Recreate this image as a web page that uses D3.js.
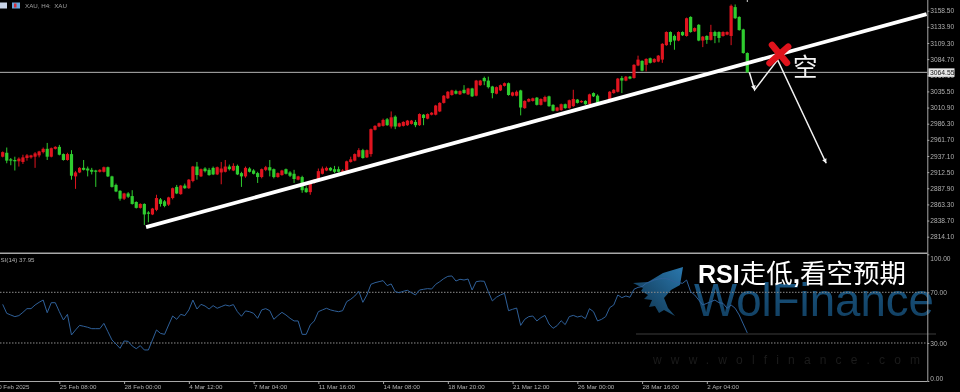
<!DOCTYPE html>
<html><head><meta charset="utf-8">
<script src="https://cdn.jsdelivr.net/npm/d3@7"></script>
<style>html,body{margin:0;padding:0;background:#000;overflow:hidden}svg{display:block;filter:blur(0.4px)}
text{font-family:"Liberation Sans",Arial,sans-serif}</style></head>
<body><svg id="c" width="960" height="392"></svg>
<script>
const opens=[2936,2942,2932,2931,2929,2928,2934,2935,2936,2938,
2943,2948,2936,2948,2951,2940,2931,2940,2906,2912,
2919,2918,2916,2915,2913,2913,2920,2906,2893,2884,
2872,2880,2876,2867,2858,2864,2851,2848,2855,2871,
2868,2863,2873,2890,2879,2892,2888,2899,2921,2906,
2918,2916,2919,2909,2912,2913,2921,2915,2922,2911,
2906,2918,2915,2911,2905,2916,2920,2917,2905,2908,
2917,2912,2910,2901,2905,2888,2882,2896,2902,2910,
2915,2919,2917,2917,2913,2915,2928,2930,2936,2946,
2935,2940,2977,2982,2983,2993,2982,2997,2982,2983,
2984,2986,2989,2984,3000,2994,3000,3000,3005,3018,
3025,3030,3036,3031,3038,3031,3040,3029,3045,3056,
3052,3043,3032,3037,3044,3048,3029,3029,3037,3010,
3020,3021,3026,3015,3020,3028,3015,3006,3007,3016,
3010,3013,3023,3019,3021,3016,3033,3029,3020,3018,
3024,3033,3035,3056,3052,3058,3056,3075,3082,3076,
3086,3080,3081,3084,3106,3126,3120,3113,3126,3120,
3149,3127,3137,3113,3120,3114,3126,3126,3120,3122,
3120,3164,3149,3130,3094];
const closes=[2943,2930,2930,2929,2933,2935,2938,2938,2941,2944,
2948,2936,2949,2951,2939,2931,2940,2907,2912,2919,
2916,2915,2913,2913,2916,2920,2906,2890,2883,2872,
2880,2875,2864,2858,2864,2848,2849,2857,2873,2864,
2861,2874,2888,2880,2892,2888,2901,2921,2908,2917,
2914,2908,2909,2920,2918,2921,2917,2922,2909,2906,
2919,2913,2910,2905,2917,2920,2915,2905,2911,2915,
2910,2907,2902,2906,2885,2882,2895,2901,2914,2918,
2919,2915,2913,2913,2915,2929,2932,2940,2946,2934,
2946,2978,2983,2987,2992,2984,2996,2982,2987,2989,
2991,2991,2984,3001,2995,3001,3003,3014,3018,3029,
3035,3037,3032,3036,3033,3040,3028,3052,3052,3051,
3042,3033,3042,3045,3048,3030,3034,3035,3011,3021,
3024,3025,3015,3024,3027,3013,3006,3011,3016,3010,
3022,3024,3018,3021,3016,3031,3028,3018,3017,3021,
3035,3038,3055,3052,3058,3055,3076,3084,3067,3085,
3079,3085,3090,3108,3126,3111,3113,3126,3121,3147,
3126,3132,3113,3119,3114,3126,3120,3117,3126,3126,
3166,3147,3129,3094,3064.55];
const highs=[2944,2950,2934,2936,2935,2939,2940,2939,2943,2945,
2950,2957,2950,2952,2954,2941,2942,2946,2914,2920,
2931,2921,2919,2916,2917,2921,2921,2907,2895,2885,
2881,2882,2885,2868,2865,2865,2853,2858,2878,2873,
2870,2875,2889,2893,2893,2895,2902,2922,2928,2918,
2920,2919,2921,2921,2928,2931,2924,2926,2924,2913,
2921,2920,2917,2913,2918,2922,2931,2918,2912,2916,
2918,2914,2916,2907,2907,2891,2899,2902,2918,2921,
2921,2920,2922,2921,2917,2930,2936,2941,2949,2948,
2947,2979,2984,2988,2994,2995,3005,2999,2988,2990,
2992,2992,2992,3002,3001,3002,3004,3015,3019,3030,
3036,3038,3038,3037,3045,3041,3041,3053,3053,3058,
3058,3044,3043,3046,3049,3049,3035,3037,3038,3022,
3025,3026,3027,3025,3029,3029,3016,3012,3017,3017,
3023,3038,3024,3022,3022,3032,3034,3031,3021,3022,
3036,3039,3056,3059,3059,3059,3077,3090,3083,3086,
3087,3086,3091,3109,3127,3127,3122,3127,3127,3148,
3150,3133,3138,3120,3121,3137,3128,3127,3127,3127,
3168,3168,3150,3131,3095];
const lows=[2935,2926,2923,2915,2921,2925,2930,2933,2919,2935,
2941,2931,2935,2947,2938,2930,2930,2901,2887,2911,
2915,2906,2909,2890,2912,2912,2905,2889,2882,2869,
2870,2873,2863,2857,2857,2832,2836,2847,2853,2860,
2859,2861,2871,2879,2878,2887,2887,2897,2901,2905,
2912,2907,2908,2908,2894,2912,2915,2914,2908,2890,
2904,2912,2909,2896,2903,2914,2906,2903,2904,2907,
2909,2905,2896,2900,2881,2881,2878,2895,2901,2909,
2914,2914,2911,2912,2912,2914,2927,2929,2935,2933,
2934,2936,2976,2981,2982,2983,2979,2978,2981,2982,
2983,2985,2981,2983,2984,2993,2999,2999,3004,3017,
3024,3029,3031,3030,3032,3030,3027,3028,3044,3045,
3040,3025,3031,3036,3043,3029,3028,3028,2999,3009,
3019,3020,3014,3014,3019,3012,3005,3005,3006,3009,
3009,3012,3017,3018,3015,3015,3027,3017,3016,3017,
3023,3032,3034,3033,3051,3054,3055,3074,3066,3066,
3078,3079,3080,3079,3105,3106,3099,3112,3120,3119,
3125,3126,3112,3103,3108,3113,3109,3110,3119,3121,
3106,3146,3128,3093,3064];
const rsi=[60.5,53.4,52.1,50.8,51.6,54.2,57.1,57.1,60,62.1,
63.9,53.9,61.8,61.8,54.7,48.2,52.6,36.3,40.3,43.9,
43.2,42.4,41.3,41.3,41.3,45.5,38.9,32.4,29.2,25.8,
31.6,31.3,27.6,25.5,27.9,24.5,24.5,32.4,40.3,37.6,
36.8,44.2,51.3,48.7,52.6,51.6,56.1,63.9,56.8,60.5,
59.2,56.8,59.5,57.4,58.7,60,59.2,60.3,54.7,51.1,
55.3,54.7,53.4,49.5,56.1,57.1,55.5,48.7,51.6,54.2,
52.1,49.5,47.4,47.4,36.8,36.8,44.2,47.4,54.7,56.1,
57.4,56.1,55.3,54.7,55.5,62.6,64.5,67.1,70.8,62.1,
67.9,76.3,77.6,78.4,79.2,75.3,76.6,70.5,69.7,70.8,
71.6,69.7,67.9,71.8,72.4,72.9,72.6,76.3,78.4,80.8,
82.6,82.9,78.9,80.3,79.7,80.5,71.8,78.4,78.9,78.7,
70.5,63.2,66.1,67.9,69.2,55.5,56.6,57.6,43.9,48.7,
50.8,51.3,47.4,50,51.8,45,41.6,43.7,47.6,44.5,
50.8,51.8,50.5,51.3,49.2,57.1,54.7,47.4,48.7,50.8,
57.9,60,67.9,65.8,67.1,66.1,72.4,73.9,74.5,77.1,
78.4,79.7,80.5,81,81,79.7,78.4,77.6,77.1,79.7,
70.5,67.9,63.9,60,61.3,62.6,63.9,61.8,61.3,57.4,
60,57.4,52.1,45,37.95];
const priceTicks=[3158.5,3133.9,3109.3,3084.7,3060.1,3035.5,3010.9,2986.3,2961.7,2937.1,2912.5,2887.9,2863.3,2838.7,2814.1];
const lastPrice=3064.55;
const rsiTicks=[100,70,30,0];
const timeTicks=[14,30,46,62,78,94,110,126,142,158,174];
const timeLabels=["25 Feb 08:00","28 Feb 00:00","4 Mar 12:00","7 Mar 04:00","11 Mar 16:00","14 Mar 08:00","18 Mar 20:00","21 Mar 12:00","26 Mar 00:00","28 Mar 16:00","2 Apr 04:00"];
const trendIdx=[35.43,228.3], trendPrice=[2828.6,3153.2];
const shortPathIdx=[184.5,185.8,191.5,203.5], shortPathPrice=[3064.8,3037.8,3083.6,2926.1];
const crossAIdx=[190.1,193.8], crossAPrice=[3106.4,3079];
const crossBIdx=[194.1,189.5], crossBPrice=[3103.8,3078.5];

const svg=d3.select("#c");
const W=927.3, GREY="#a8a8a8";
const x=d3.scaleLinear().domain([0,184]).range([2.7,747.3]);
const y=d3.scaleLinear().domain([3158.5,2814.1]).range([10.7,236.7]);
const yr=d3.scaleLinear().domain([0,100]).range([381,254.3]);
const RED="#e0141f", GREEN="#2fcc2f";
const col=i=>closes[i]>=opens[i]?RED:GREEN;
const SMALL=6.2;

/* watermark */
const defs=svg.append("defs");
const g=defs.append("linearGradient").attr("id","wolf").attr("x1",1).attr("y1",0).attr("x2",0).attr("y2",1);
g.append("stop").attr("offset","0").attr("stop-color","#2a78ae");
g.append("stop").attr("offset","1").attr("stop-color","#0d2e46");
const t=defs.append("linearGradient").attr("id","wf").attr("x1",0).attr("y1",0).attr("x2",0).attr("y2",1);
t.append("stop").attr("offset","0").attr("stop-color","#1a5a88");
t.append("stop").attr("offset","1").attr("stop-color","#113c5c");
svg.append("path").attr("fill","url(#wolf)")
 .attr("d","M633,283 L648,282 L663,273 L683,267 L680,285 L671,290 L664,298 L668,308 L675,316 L664,310 L659,313 L655,306 L649,307 L652,300 L644,299 L648,295 L641,291 L643,288 Z");
svg.append("text").text("WolFinance").attr("x",694).attr("y",316).attr("font-size",47)
 .attr("textLength",240).attr("lengthAdjust","spacingAndGlyphs").attr("fill","url(#wf)");
svg.append("text").text("www.wolfinance.com").attr("x",653).attr("y",364).attr("font-size",12)
 .attr("textLength",267).attr("fill","#1b1b1b");
svg.append("line").attr("x1",636).attr("x2",936).attr("y1",334).attr("y2",334).attr("stroke","#3c3c3c");

/* frame */
svg.append("line").attr("x1",0).attr("x2",W).attr("y1",253.3).attr("y2",253.3).attr("stroke",GREY).attr("stroke-width",1.6);
svg.append("line").attr("x1",0).attr("x2",W).attr("y1",y(lastPrice)).attr("y2",y(lastPrice)).attr("stroke","#b4b4b4");

/* candles */
const idx=d3.range(opens.length);
svg.append("g").selectAll("line").data(idx).join("line")
 .attr("x1",i=>x(i)).attr("x2",i=>x(i)).attr("y1",i=>y(highs[i])).attr("y2",i=>y(lows[i]))
 .attr("stroke",col).attr("stroke-width",1);
svg.append("g").selectAll("rect").data(idx).join("rect")
 .attr("x",i=>x(i)-1.6).attr("width",3.2)
 .attr("y",i=>y(Math.max(opens[i],closes[i])))
 .attr("height",i=>Math.max(1,Math.abs(y(opens[i])-y(closes[i]))))
 .attr("fill",col);

/* right price axis */
const ya=svg.append("g").attr("transform",`translate(${W},0)`)
 .call(d3.axisRight(y).tickValues(priceTicks).tickFormat(d3.format(".2f")).tickSize(2).tickPadding(1));
ya.select(".domain").attr("d","M0.5,0V381");
const ra=svg.append("g").attr("transform",`translate(${W},0)`)
 .call(d3.axisRight(yr).tickValues(rsiTicks).tickFormat(d3.format(".2f")).tickSize(2).tickPadding(1));
ra.select(".domain").remove();
ra.selectAll(".tick text").attr("dy",d=>d===100?"0.9em":d===0?"-0.05em":"0.32em");
[ya,ra].forEach(a=>{a.selectAll(".domain,.tick line").attr("stroke",GREY);
 a.selectAll("text").attr("fill","#b0b0b0").attr("font-size",6.6).attr("font-family","Liberation Sans");});

/* bottom axis */
const xa=svg.append("g").attr("transform","translate(0,381)")
 .call(d3.axisBottom(x).tickValues(timeTicks).tickFormat((d,i)=>timeLabels[i]).tickSize(3).tickPadding(0));
xa.select(".domain").attr("d",`M0,0.5H${W}`);
xa.selectAll(".domain,.tick line").attr("stroke",GREY);
xa.selectAll("text").attr("fill","#b0b0b0").attr("font-size",SMALL).attr("text-anchor","start")
 .attr("font-family","Liberation Sans").attr("y",3).attr("dy","0.75em");
svg.append("text").text("20 Feb 2025").attr("x",29.5).attr("y",389).attr("text-anchor","end")
 .attr("font-size",SMALL).attr("fill","#b0b0b0");

/* RSI */
svg.append("g").selectAll("line").data([70,30]).join("line")
 .attr("x1",0).attr("x2",W).attr("y1",d=>yr(d)).attr("y2",d=>yr(d))
 .attr("stroke","#8c8c8c").attr("stroke-dasharray","1.5,1.5");
svg.append("path").attr("d",d3.line().x((d,i)=>x(i)).y(d=>yr(d))(rsi))
 .attr("fill","none").attr("stroke","#2f6099").attr("stroke-width",1);
svg.append("text").text("RSI(14) 37.95").attr("x",-4).attr("y",262).attr("font-size",SMALL).attr("fill","#b0b0b0");

/* last price tag */
svg.append("rect").attr("x",928.5).attr("y",y(lastPrice)-4).attr("width",26).attr("height",8.5).attr("fill","#e8e8e8");
svg.append("text").text(lastPrice.toFixed(2)).attr("x",930).attr("y",y(lastPrice)+2.5).attr("font-size",6.8).attr("fill","#111");

/* annotations */
const pt=(a,b)=>a.map((v,i)=>[x(v),y(b[i])]);
const ln=d3.line();
svg.append("path").attr("d",ln(pt(trendIdx,trendPrice))).attr("stroke","#fff").attr("stroke-width",3.8).attr("fill","none");
const sp=pt(shortPathIdx,shortPathPrice);
svg.append("path").attr("d",ln(sp)).attr("stroke","#f2f2f2").attr("stroke-width",1.5).attr("fill","none");
const head=(a,b)=>{const ang=Math.atan2(b[1]-a[1],b[0]-a[0]),L=5,S=0.5;
 svg.append("path").attr("fill","#f2f2f2").attr("d",ln([b,
  [b[0]-L*Math.cos(ang-S),b[1]-L*Math.sin(ang-S)],
  [b[0]-L*Math.cos(ang+S),b[1]-L*Math.sin(ang+S)]])+"Z");};
head(sp[0],sp[1]); head(sp[2],sp[3]);
[[crossAIdx,crossAPrice],[crossBIdx,crossBPrice]].forEach(([a,b])=>
 svg.append("path").attr("d",ln(pt(a,b))).attr("stroke","#e0131c").attr("stroke-width",6.5)
  .attr("stroke-linecap","round").attr("fill","none"));
svg.append("text").text("空").attr("x",793).attr("y",76).attr("font-size",24.5)
 .attr("fill","#f4f4f4").style("font-family","'Noto Sans CJK SC'").attr("font-weight",400);
svg.append("line").attr("x1",x(184)).attr("x2",x(184)).attr("y1",0).attr("y2",2).attr("stroke","#d8d8d8");
const note=svg.append("text").attr("x",698).attr("y",283).attr("fill","#fff");
note.append("tspan").text("RSI").attr("font-size",25).attr("font-weight",700);
note.append("tspan").text("走低").attr("font-size",26.5).style("font-family","'Noto Sans CJK SC'");
note.append("tspan").text(",").attr("font-size",26.5).attr("font-weight",700);
note.append("tspan").text("看空预期").attr("font-size",26.5).style("font-family","'Noto Sans CJK SC'");

/* header */
svg.append("rect").attr("x",0).attr("y",2.5).attr("width",7).attr("height",6).attr("fill","#c8d4e8");
svg.append("rect").attr("x",12).attr("y",2.5).attr("width",8).attr("height",6).attr("fill","#6aa6dc");
svg.append("rect").attr("x",14).attr("y",3.5).attr("width",2.5).attr("height",4).attr("fill","#d8303a");
svg.append("text").text("XAU, H4:  XAU").attr("x",25).attr("y",8).attr("font-size",SMALL).attr("fill","#a0a0a0").style("white-space","pre");
</script></body></html>
